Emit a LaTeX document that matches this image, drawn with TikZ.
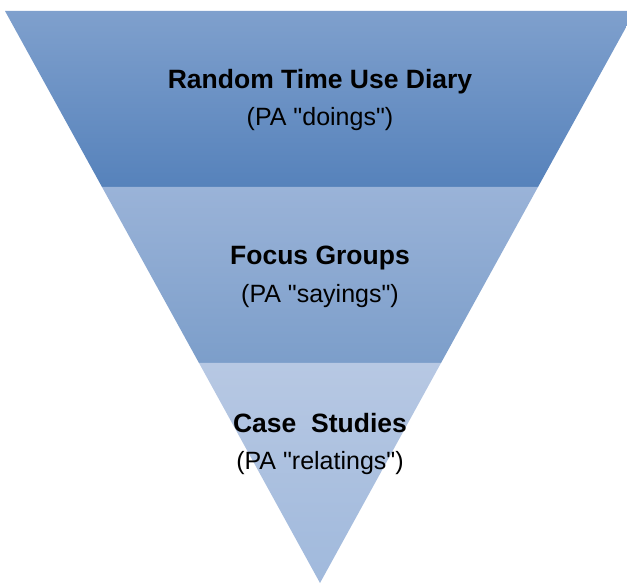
\documentclass[tikz,border=0pt]{standalone}
\usepackage{fontspec}
\setmainfont{Liberation Sans}
\usepackage{tikz}

\definecolor{diaryTop}{HTML}{7FA0CD}
\definecolor{diaryBot}{HTML}{5682BB}
\definecolor{focusTop}{HTML}{9AB3D8}
\definecolor{focusBot}{HTML}{7C9ECA}
\definecolor{caseTop}{HTML}{B7C8E3}
\definecolor{caseBot}{HTML}{A0B9DC}

\tikzset{
  title/.style={font=\fontsize{26.5}{30}\selectfont\bfseries, inner sep=0pt},
  subtitle/.style={font=\fontsize{25}{28}\selectfont, inner sep=0pt}
}

\begin{document}
\begin{tikzpicture}[x=1pt,y=-1pt]

\useasboundingbox (0,0) rectangle (627,585);
\clip (0,0) rectangle (627,585);

% Corners of the funnel

\coordinate (tl) at (5,11);
\coordinate (tr) at (635,11);
\coordinate (ml) at (102,187);
\coordinate (mr) at (538,187);
\coordinate (bl) at (199,363);
\coordinate (br) at (441,363);
\coordinate (apex) at (320,583);

% Draw Diary band

\shade[top color=diaryTop, bottom color=diaryBot] (tl) -- (tr) -- (mr) -- (ml) -- cycle;

% Draw Focus band

\shade[top color=focusTop, bottom color=focusBot] (ml) -- (mr) -- (br) -- (bl) -- cycle;

% Draw Case band

\shade[top color=caseTop, bottom color=caseBot] (bl) -- (br) -- (apex) -- cycle;

% Draw Labels

\node[title] (diary) at (320,82) {Random Time Use Diary};
\node[subtitle] (doings) at (320,119) {(PA \textquotedbl doings\textquotedbl)};

\node[title] (focus) at (320,258) {Focus Groups};
\node[subtitle] (sayings) at (320,296) {(PA \textquotedbl sayings\textquotedbl)};

\node[title] (case) at (320,423) {Case\ \ Studies};
\node[subtitle] (relatings) at (320,463) {(PA \textquotedbl relatings\textquotedbl)};

\end{tikzpicture}
\end{document}
